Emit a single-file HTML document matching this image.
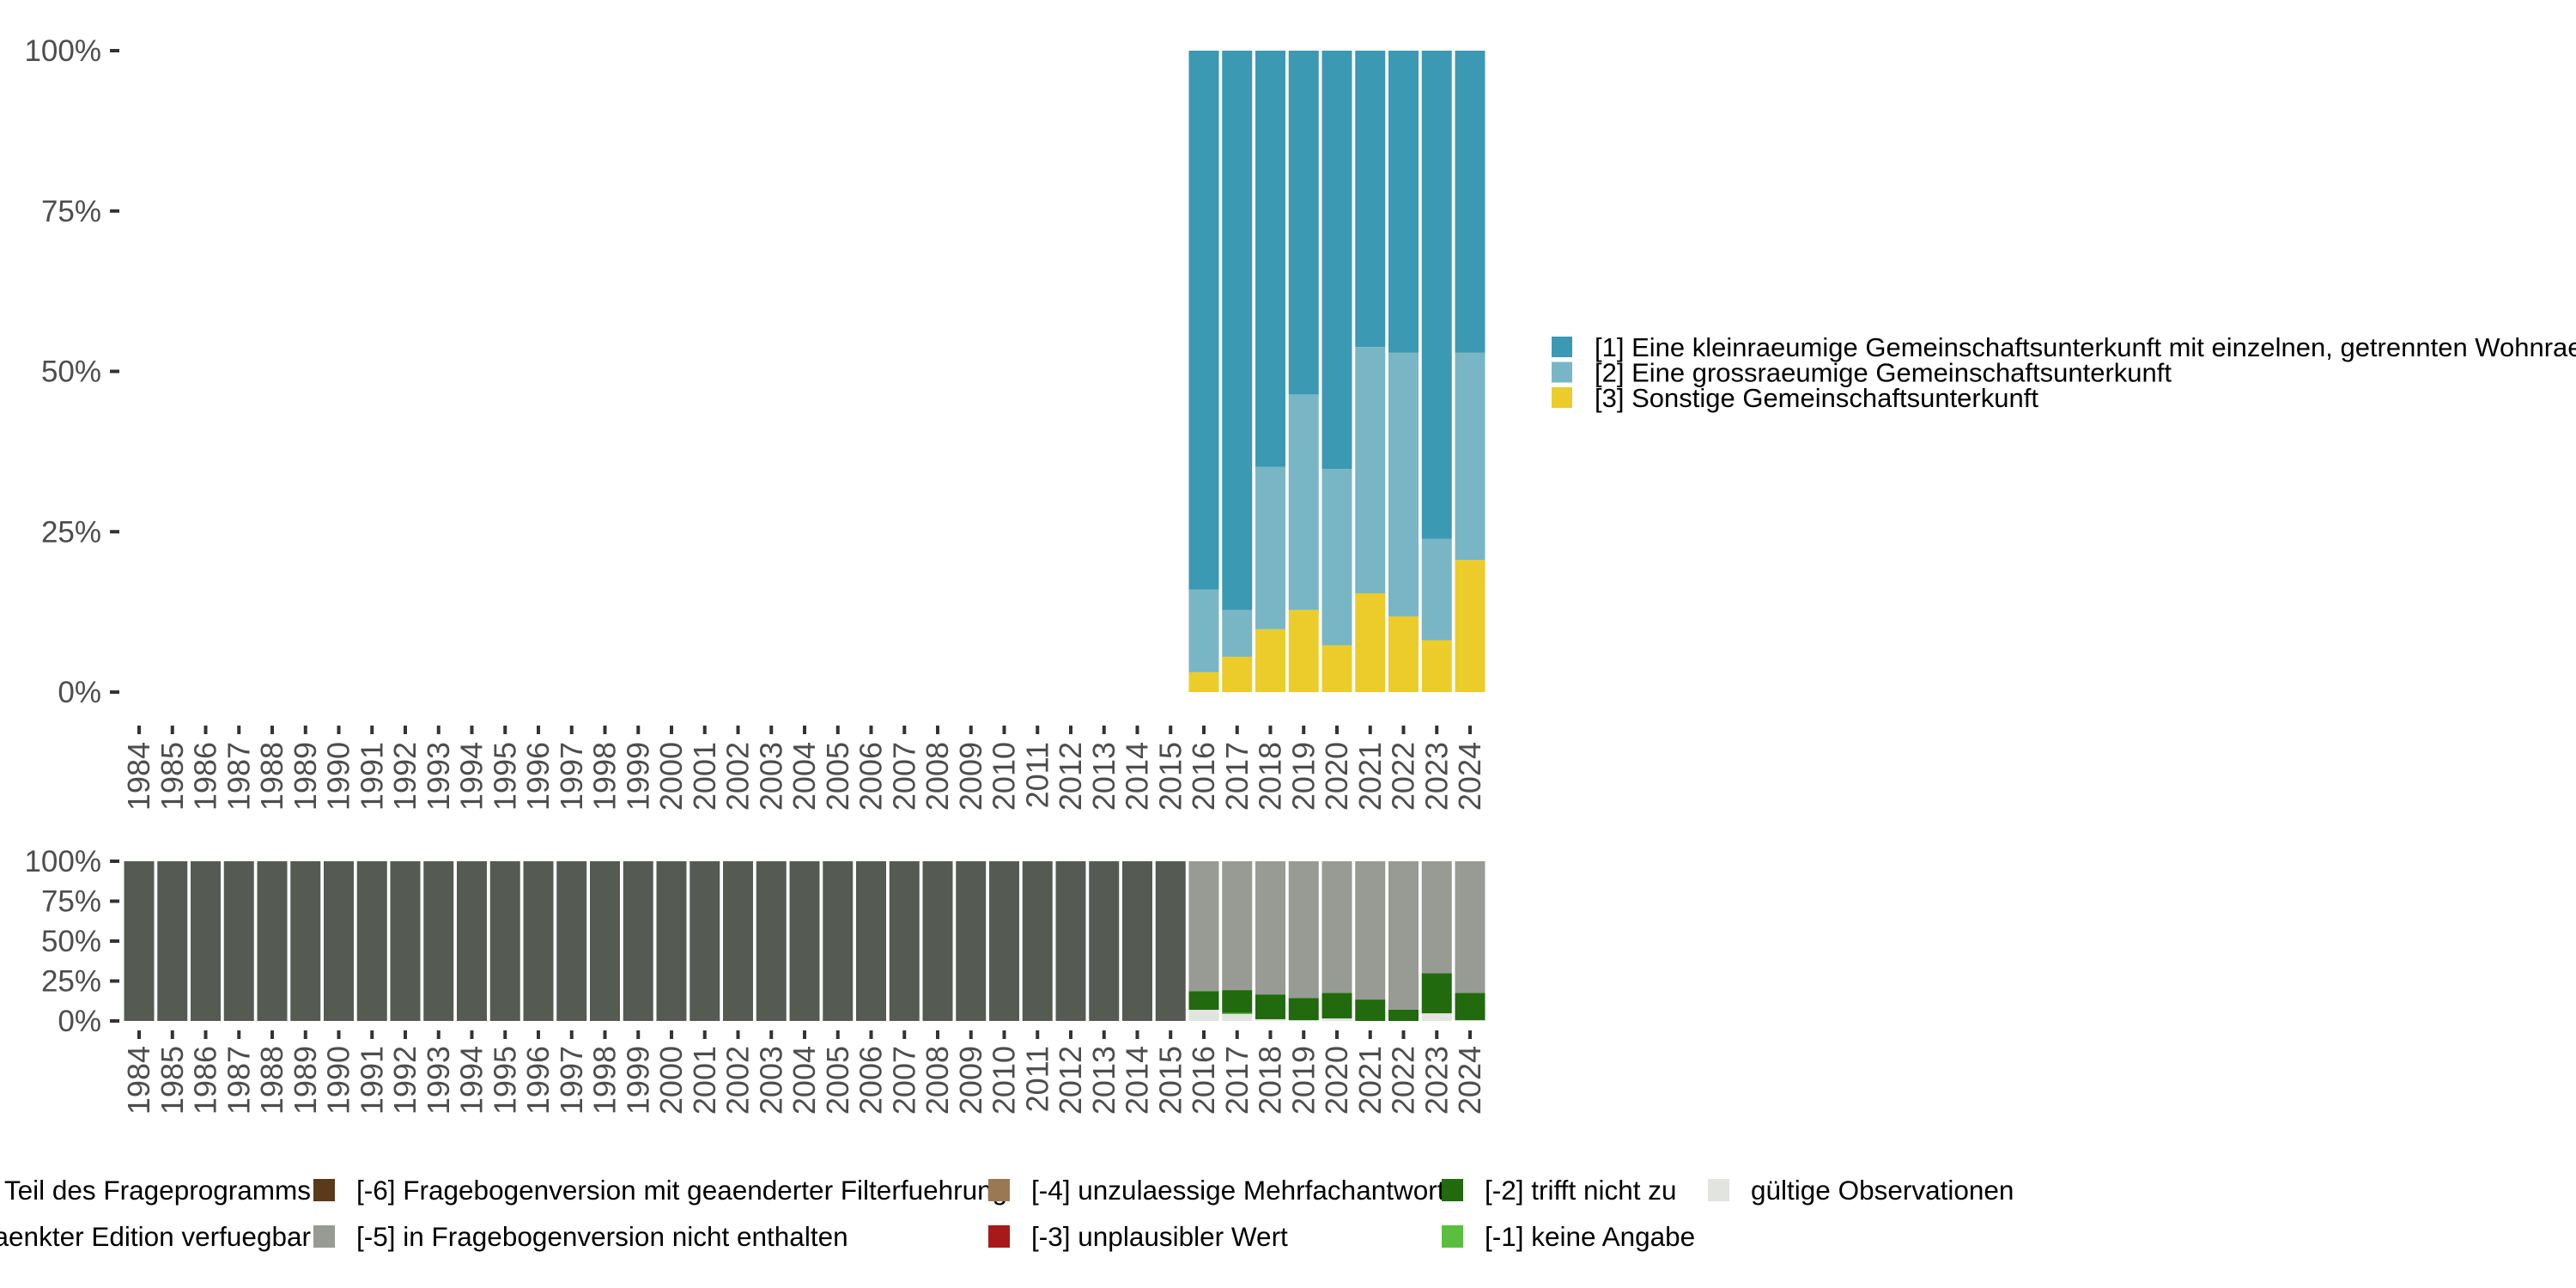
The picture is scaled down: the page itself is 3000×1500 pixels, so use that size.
<!DOCTYPE html>
<html><head><meta charset="utf-8"><style>
html,body{margin:0;padding:0;background:#fff;}
svg{display:block;font-family:"Liberation Sans",sans-serif;}
</style></head><body>
<svg id="chart" width="3000" height="1500" viewBox="0 0 3000 1500">
<g id="top"></g>
<g id="bottom"></g>
<g id="legend-right"></g>
<g id="legend-bottom"></g>
</svg>
<script>
const years = [];
for (let y = 1984; y <= 2024; y++) years.push(y);
const topYears = [2016,2017,2018,2019,2020,2021,2022,2023,2024];
const topCat3 = [3.1,5.5,9.8,12.8,7.3,15.4,11.8,8.1,20.6];
const topCat2 = [12.9,7.3,25.3,33.6,27.5,38.4,41.1,15.8,32.3];
const topCat1 = [84.0,87.2,64.9,53.6,65.2,46.2,47.1,76.1,47.1];
const topTicks = [0,25,50,75,100];
const valid = [7.0,4.3,1.1,0.5,1.6,0,0,4.8,0.5];
const noAnswer = [0,0.7,0,0,0,0,0,0,0];
const notApplies = [11.7,14.3,15.5,13.9,16.0,13.4,7.0,25.1,17.1];
const notInVersion = [81.3,80.7,83.4,85.6,82.4,86.6,93.0,70.1,82.4];
const notInProgram = 100;

const NS = "http://www.w3.org/2000/svg";
function mk(tag, attrs, parent, text) {
  const e = document.createElementNS(NS, tag);
  for (const k in attrs) e.setAttribute(k, attrs[k]);
  if (text !== undefined) e.textContent = text;
  parent.appendChild(e);
  return e;
}
const step = 38.75, bw = 35;
function xc(year) { return 162 + (year - 1984) * step; }
function yTop(v) { return 806 - v * 7.47; }
function yBot(v) { return 1189 - v * 1.86; }

const gT = document.getElementById('top');
const gB = document.getElementById('bottom');

function axes(g, yf, tickYTop, labYTop) {
  topTicks.forEach(t => {
    const tk = mk('rect', {x:128, y:yf(t)-2, width:11, height:4, fill:'#333'}, g);
    
    
    const lb = mk('text', {x:118, y:yf(t)+12, 'text-anchor':'end', 'font-size':35, fill:'#4d4d4d'}, g, t + '%');
    
    
  });
  years.forEach(yr => {
    const tk = mk('rect', {x:xc(yr)-2, y:tickYTop, width:4, height:10, fill:'#333'}, g);
    
    
    const x = xc(yr) + 12, y = labYTop;
    const lb = mk('text', {x:x, y:y, 'text-anchor':'end', 'font-size':36, fill:'#4d4d4d', transform:'rotate(-90 '+x+' '+y+')'}, g, String(yr));
    
    
  });
}
axes(gT, yTop, 845, 864);
axes(gB, yBot, 1200, 1218);

function seg(g, yr, yf, lo, hi, color, name) {
  if (hi - lo <= 0) return;
  const r = mk('rect', {x:xc(yr)-bw/2, y:yf(hi), width:bw, height:yf(lo)-yf(hi), fill:color}, g);
  
  
}
topYears.forEach((yr, i) => {
  let a = topCat3[i], b = a + topCat2[i], c = b + topCat1[i];
  seg(gT, yr, yTop, 0, a, '#ebcc2a', 'bar-sonstige-' + yr);
  seg(gT, yr, yTop, a, b, '#79b6c5', 'bar-grossraeumig-' + yr);
  seg(gT, yr, yTop, b, c, '#3c99b3', 'bar-kleinraeumig-' + yr);
});
years.forEach(yr => {
  const i = topYears.indexOf(yr);
  if (i < 0) { seg(gB, yr, yBot, 0, notInProgram, '#555b53', 'bar-not-in-program-' + yr); return; }
  let a = valid[i], b = a + noAnswer[i], c = b + notApplies[i], d = c + notInVersion[i];
  seg(gB, yr, yBot, 0, a, '#e1e4df', 'bar-valid-' + yr);
  seg(gB, yr, yBot, a, b, '#5abf3f', 'bar-no-answer-' + yr);
  seg(gB, yr, yBot, b, c, '#216a0e', 'bar-not-applies-' + yr);
  seg(gB, yr, yBot, c, d, '#979b94', 'bar-not-in-version-' + yr);
});

const gR = document.getElementById('legend-right');
[['#3c99b3','[1] Eine kleinraeumige Gemeinschaftsunterkunft mit einzelnen, getrennten Wohnraeumen'],
 ['#79b6c5','[2] Eine grossraeumige Gemeinschaftsunterkunft'],
 ['#ebcc2a','[3] Sonstige Gemeinschaftsunterkunft']].forEach((it, i) => {
  const cy = 404 + i * 29.5;
  const s = mk('rect', {x:1807, y:cy-12, width:24, height:24, fill:it[0]}, gR);
  
  
  const t = mk('text', {x:1857, y:cy+11, 'font-size':31, fill:'#000'}, gR, it[1]);
  
  
});

const gL = document.getElementById('legend-bottom');
const rows = [1386, 1440];
function lentry(sx, row, color, text) {
  const cy = rows[row];
  if (color) {
    const s = mk('rect', {x:sx, y:cy-13, width:25, height:26, fill:color}, gL);
    
    
  }
  const t = mk('text', {x:sx+50, y:cy+11, 'font-size':31.5, fill:'#000'}, gL, text);
  
  
}
const t8 = mk('text', {x:362, y:rows[0]+11, 'font-size':31.5, 'text-anchor':'end', fill:'#000'}, gL, '[-8] Item nicht Teil des Frageprogramms');


const t7 = mk('text', {x:362, y:rows[1]+11, 'font-size':31.5, 'text-anchor':'end', fill:'#000'}, gL, '[-7] nur in eingeschraenkter Edition verfuegbar');


lentry(365, 0, '#5a3a1a', '[-6] Fragebogenversion mit geaenderter Filterfuehrung');
lentry(365, 1, '#979b94', '[-5] in Fragebogenversion nicht enthalten');
lentry(1151, 0, '#9a7852', '[-4] unzulaessige Mehrfachantwort');
lentry(1151, 1, '#a8191a', '[-3] unplausibler Wert');
lentry(1679, 0, '#216a0e', '[-2] trifft nicht zu');
lentry(1679, 1, '#5abf3f', '[-1] keine Angabe');
lentry(1989, 0, '#e1e4df', 'gültige Observationen');
</script>
</body></html>
